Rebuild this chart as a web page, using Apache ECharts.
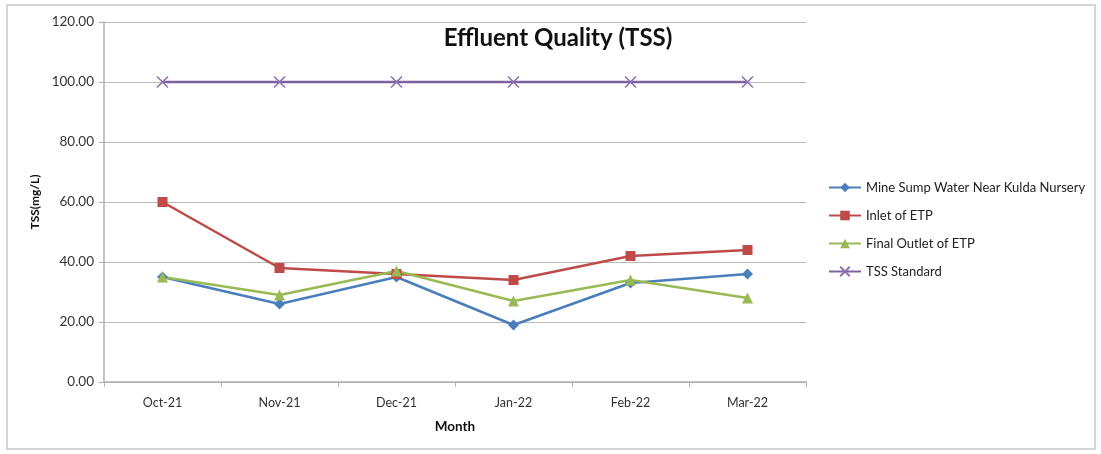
<!DOCTYPE html>
<html><head><meta charset="utf-8">
<script src="https://cdn.jsdelivr.net/npm/echarts@6/dist/echarts.min.js"></script>
<style>html,body{margin:0;padding:0;background:#fff}#c{width:1101px;height:454px}</style>
</head><body><div id="c"></div>
<script>
const categories = ['Oct-21','Nov-21','Dec-21','Jan-22','Feb-22','Mar-22'];
const mineSump = [35, 26, 35, 19, 33, 36];
const inletETP = [60, 38, 36, 34, 42, 44];
const finalOutlet = [35, 29, 37, 27, 34, 28];
const tssStandard = [100, 100, 100, 100, 100, 100];
const yTicks = {min: 0, max: 120, interval: 20};

const font = 'Lato, "Open Sans", sans-serif';
const chart = echarts.init(document.getElementById('c'));
function s(name, data, color, symbol, size, extra) {
  return Object.assign({name, type:'line', data, symbol, symbolSize:size, showAllSymbol:true,
    lineStyle:{color, width:2.5}, itemStyle:{color}, emphasis:{disabled:true}}, extra || {});
}
chart.setOption({
  animation:false,
  graphic:[{type:'rect', shape:{x:7,y:5,width:1088,height:444}, style:{fill:'none', stroke:'#c8c8c8', lineWidth:1.5}, silent:true}],
  title:{text:'Effluent Quality (TSS)', left:553, top:21, textAlign:'center',
    textStyle:{fontFamily:font, fontSize:24, fontWeight:'bold', color:'#111'}},
  grid:{left:104, right:295, top:22, bottom:72, containLabel:false},
  legend:{orient:'vertical', left:823, top:176, itemGap:15, itemWidth:32, itemHeight:12,
    textStyle:{fontFamily:font, fontSize:13, color:'#222'},
    data:['Mine Sump Water Near Kulda Nursery','Inlet of ETP','Final Outlet of ETP','TSS Standard']},
  xAxis:{type:'category', data:categories, boundaryGap:true,
    name:'Month', nameLocation:'middle', nameGap:38,
    nameTextStyle:{fontFamily:font, fontSize:13.5, fontWeight:'bold', color:'#111'},
    axisLine:{lineStyle:{color:'#b0b0b0', width:1.5}},
    axisTick:{show:true, alignWithLabel:false, length:5, lineStyle:{color:'#b0b0b0'}},
    axisLabel:{fontFamily:font, fontSize:12.5, color:'#333', margin:14}},
  yAxis:{type:'value', min:yTicks.min, max:yTicks.max, interval:yTicks.interval,
    name:'TSS(mg/L)', nameLocation:'middle', nameGap:62, nameRotate:90,
    nameTextStyle:{fontFamily:font, fontSize:12, fontWeight:'bold', color:'#111'},
    axisLine:{show:true, lineStyle:{color:'#b0b0b0', width:1.5}},
    axisTick:{show:true, length:5, lineStyle:{color:'#b0b0b0'}},
    splitLine:{lineStyle:{color:'#b8b8b8', width:1}},
    axisLabel:{fontFamily:font, fontSize:13.5, color:'#333', margin:10, formatter:v=>v.toFixed(2)}},
  series:[
    s('Mine Sump Water Near Kulda Nursery', mineSump, '#4A7EBB', 'diamond', 11),
    s('Inlet of ETP', inletETP, '#BE4B48', 'rect', 10),
    s('Final Outlet of ETP', finalOutlet, '#98B954', 'triangle', 11),
    s('TSS Standard', tssStandard, '#7D60A0', 'path://M0,0L10,10M10,0L0,10', 11,
      {itemStyle:{color:'#7D60A0', borderColor:'#8B72B0', borderWidth:1.6}})
  ]
});
</script></body></html>
